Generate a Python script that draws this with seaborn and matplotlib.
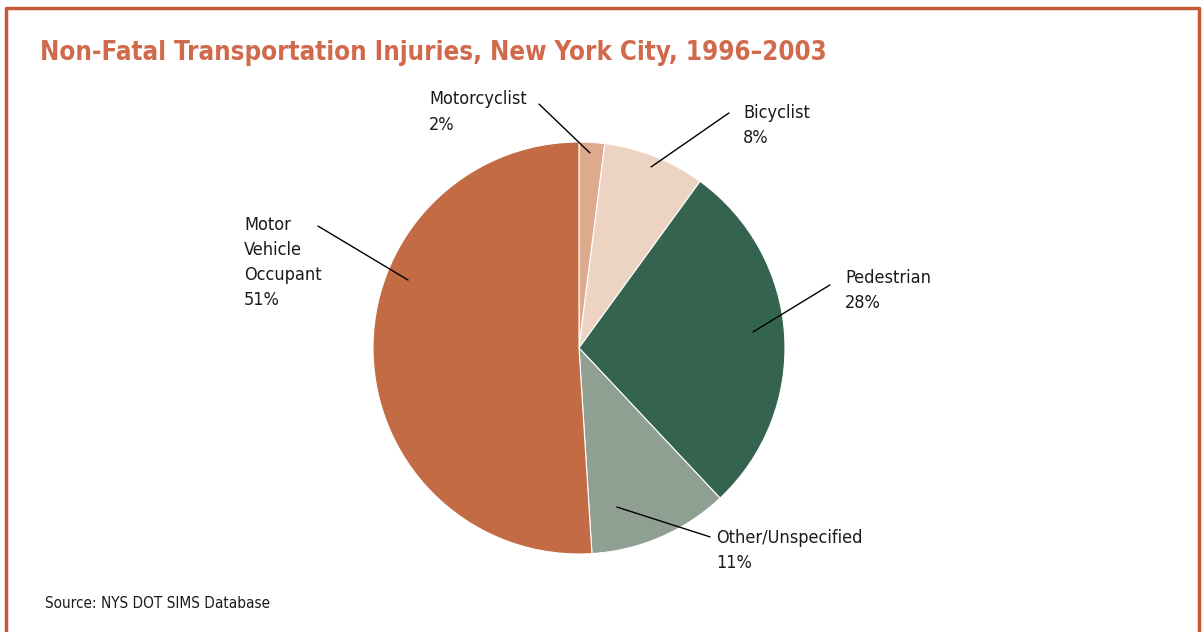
import matplotlib
matplotlib.use("Agg")
import matplotlib.pyplot as plt
from matplotlib.lines import Line2D
import seaborn as sns

# ====== Data ======
categories = ["Motorcyclist", "Bicyclist", "Pedestrian", "Other/Unspecified", "Motor Vehicle Occupant"]
label_text = ["Motorcyclist", "Bicyclist", "Pedestrian", "Other/Unspecified", "Motor\nVehicle\nOccupant"]
shares = [2, 8, 28, 11, 51]
colors = ["#DEAA8D", "#EDD3C2", "#346350", "#8FA093", "#C36B44"]

# leader line start (inside wedge), end, and text top-left, in pie-radius units
anchor_xy = [(0.053, 0.947), (0.350, 0.879), (0.845, 0.078), (0.184, -0.772), (-0.830, 0.330)]
line_end_xy = [(-0.194, 1.184), (0.728, 1.141), (1.218, 0.306), (0.636, -0.917), (-1.267, 0.592)]
text_xy = [(-0.728, 1.250), (0.796, 1.183), (1.291, 0.382), (0.665, -0.878), (-1.626, 0.643)]

sns.set_theme(style="white")
plt.rcParams["font.family"] = ["DejaVu Sans"]
plt.rcParams["font.stretch"] = "condensed"

W, H = 1204, 632
cx, cy, R = 579, 348, 206  # pie centre and radius in pixels

fig = plt.figure(figsize=(W / 100, H / 100), dpi=100)
ax = fig.add_axes([0, 0, 1, 1])

wedges, _ = ax.pie(shares, colors=colors, startangle=90, counterclock=False,
                   wedgeprops=dict(linewidth=0.8, edgecolor="white"))
ax.set_xlim(-cx / R, (W - cx) / R)
ax.set_ylim(-(H - cy) / R, cy / R)
ax.set_aspect("equal")
ax.axis("off")

for txt, s, a, e, t in zip(label_text, shares, anchor_xy, line_end_xy, text_xy):
    ax.plot([a[0], e[0]], [a[1], e[1]], color="black", lw=1.0)
    ax.text(t[0], t[1], f"{txt}\n{s}%", ha="left", va="top",
            fontsize=13, color="#1a1a1a", linespacing=1.5)

# ====== Title, source and frame ======
fig.text(40 / W, 1 - 53 / H, "Non-Fatal Transportation Injuries, New York City, 1996\u20132003",
         fontsize=18.5, fontweight="bold", color="#D06A4C", va="center", ha="left")
fig.text(45 / W, 1 - 603 / H, "Source: NYS DOT SIMS Database",
         fontsize=11, color="#1a1a1a", va="center", ha="left")

frame_color = "#C9573A"
fig.add_artist(Line2D([6 / W, 6 / W, 1199 / W, 1199 / W], [0, 1 - 8 / H, 1 - 8 / H, 0],
                      transform=fig.transFigure, color=frame_color, lw=2.5))

fig.savefig("out.png", dpi=100)
